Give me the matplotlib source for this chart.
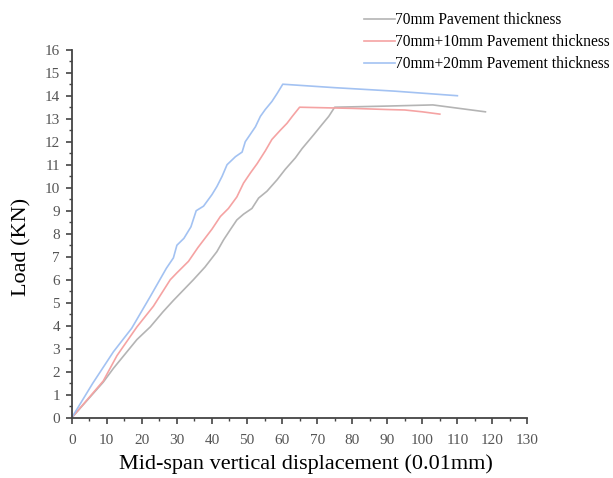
"""Load vs mid-span displacement for three pavement thicknesses."""
import matplotlib
matplotlib.use("Agg")
import matplotlib.pyplot as plt
from matplotlib.ticker import MultipleLocator

# 70mm pavement thickness
disp_70 = [0, 9, 11.9, 18.6, 22.4, 26, 29, 34.7, 38, 41.4, 43.3, 45.2, 47.1, 49, 51.4, 53.3,
           55.7, 58.6, 60.9, 63.8, 65.7, 69, 71.4, 73.3, 75, 90, 103, 118]
load_70 = [0, 1.55, 2.15, 3.4, 3.95, 4.6, 5.1, 6.0, 6.55, 7.22, 7.73, 8.17, 8.6, 8.85, 9.1, 9.55,
           9.85, 10.35, 10.8, 11.3, 11.7, 12.3, 12.75, 13.1, 13.5, 13.55, 13.6, 13.3]

# 70mm + 10mm
disp_80 = [0, 9, 12.9, 18.6, 23.3, 28.1, 30, 33.3, 36, 38, 40, 42.4, 44.7, 47.1, 49, 51,
           52.9, 55.2, 57.1, 59.5, 61.4, 62.9, 65, 80, 90, 95, 100, 105]
load_80 = [0, 1.6, 2.7, 3.95, 4.85, 6.0, 6.3, 6.8, 7.4, 7.8, 8.2, 8.75, 9.1, 9.6, 10.2, 10.65,
           11.05, 11.6, 12.1, 12.5, 12.8, 13.1, 13.5, 13.45, 13.4, 13.38, 13.3, 13.2]

# 70mm + 20mm
disp_90 = [0, 6, 11.9, 17.1, 22.4, 27, 29, 30, 32, 34, 35.5, 37.6, 40, 41.4, 42.9, 44.3,
           46.7, 48.6, 49.5, 52.4, 53.8, 55.2, 57.1, 58.6, 60.2, 75, 92, 110]
load_90 = [0, 1.5, 2.87, 3.89, 5.27, 6.5, 6.95, 7.5, 7.8, 8.3, 9.0, 9.2, 9.7, 10.05, 10.5, 11.0,
           11.35, 11.55, 12.0, 12.65, 13.1, 13.4, 13.75, 14.1, 14.5, 14.35, 14.2, 14.0]

labels = ["70mm Pavement thickness", "70mm+10mm Pavement thickness", "70mm+20mm Pavement thickness"]
colors = ["#b4b4b4", "#f5a3a3", "#a3c2f2"]

plt.rcParams["font.family"] = ["Liberation Serif", "DejaVu Serif"]

fig = plt.figure(figsize=(6.13, 4.78), dpi=100)
ax = fig.add_axes([0.117, 0.126, 0.7435, 0.77])

series = [(disp_70, load_70), (disp_80, load_80), (disp_90, load_90)]
handles = []
for (x, y), color, label in zip(series, colors, labels):
    line, = ax.plot(x, y, color=color, lw=1.2, label=label)
    handles.append(line)

ax.set_xlim(0, 130)
ax.set_ylim(0, 16)
ax.xaxis.set_major_locator(MultipleLocator(10))
ax.xaxis.set_minor_locator(MultipleLocator(5))
ax.yaxis.set_major_locator(MultipleLocator(1))
ax.yaxis.set_minor_locator(MultipleLocator(0.5))
for side in ("top", "right"):
    ax.spines[side].set_visible(False)
for side in ("left", "bottom"):
    ax.spines[side].set_color("#444444")
    ax.spines[side].set_linewidth(1.3)
ax.tick_params(which="major", direction="out", length=4.5, width=1.2, color="#444444",
               labelsize=11, labelcolor="#555555")
ax.tick_params(axis="x", which="major", pad=7)
ax.tick_params(axis="y", which="major", pad=4)
ax.tick_params(which="minor", direction="out", length=2.5, width=1.0, color="#444444")

ax.set_xlabel("Mid-span vertical displacement (0.01mm)", fontsize=16)
ax.set_ylabel("Load (KN)", fontsize=16)
ax.xaxis.set_label_coords(0.514, -0.1)
ax.yaxis.set_label_coords(-0.088, 0.463)

fig.legend(handles=handles, labels=labels, loc="upper right", bbox_to_anchor=(1.01, 0.994),
           frameon=False, fontsize=11.2, handlelength=2.0, handletextpad=0.0,
           labelspacing=0.38, borderaxespad=0.2)

fig.savefig("out.png", dpi=100)
